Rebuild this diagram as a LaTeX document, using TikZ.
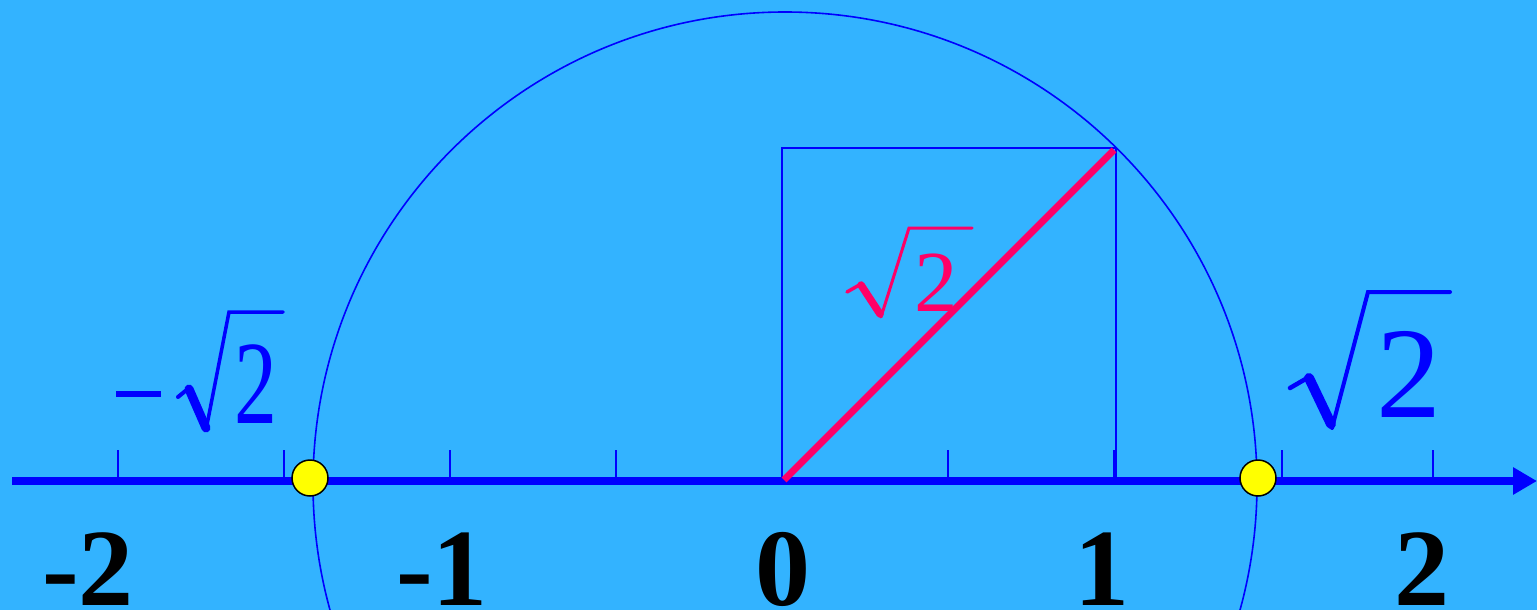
\documentclass[tikz,border=0pt]{standalone}
\usepackage{fontspec}
\setmainfont{Liberation Serif}
\usetikzlibrary{arrows.meta}
\definecolor{bgblue}{RGB}{51,179,255}
\definecolor{axblue}{RGB}{0,0,255}
\definecolor{diagred}{RGB}{255,0,102}
\definecolor{dotyellow}{RGB}{255,255,0}
\tikzset{
  ticklbl/.style={anchor=base, inner sep=0pt, font=\fontsize{110}{110}\bfseries\selectfont, text=black},
  tickmark/.style={draw=axblue, line width=2pt},
  thinblue/.style={draw=axblue, line width=1.6pt},
  ptdot/.style={circle, draw=black, line width=1.5pt, fill=dotyellow, minimum size=36pt, inner sep=0pt},
  digit/.style={inner sep=0pt, anchor=south west},
  radthin/.style={line width=#1, line cap=round, line join=miter},
  radthick/.style={line width=#1, line cap=round}
}
\begin{document}
\begin{tikzpicture}[x=1pt,y=-1pt]
\useasboundingbox (0,0) rectangle (1537,610);
\fill[bgblue] (0,0) rectangle (1537,610);
\begin{scope}
\clip (0,0) rectangle (1537,610);
\coordinate (cc) at (785,484);
\draw[thinblue] (cc) circle[radius=472];
\end{scope}
% square
\coordinate (o) at (782,481);
\coordinate (sq1) at (1116,148);
\draw[thinblue] (o) rectangle (sq1);
% ticks
\foreach \x [count=\i] in {118,284,450,616,782,948,1114,1282,1433}{
  \coordinate (tt\i) at (\x,450);
  \coordinate (tb\i) at (\x,481);
  \draw[tickmark] (tt\i) -- (tb\i);
}
% axis
\coordinate (axl) at (12,481);
\coordinate (axr) at (1537,481);
\draw[draw=axblue, line width=8pt, -{Triangle[length=24pt,width=26pt]}] (axl) -- (axr);
% diagonal
\coordinate (d0) at (784,480);
\coordinate (d1) at (1114,150);
\draw[diagred, line width=7pt] (d0) -- (d1);
% points
\node[ptdot] (pl) at (310,478) {};
\node[ptdot] (pr) at (1258,478) {};
% numbers
\node[ticklbl] (n-2) at (88,605) {-2};
\node[ticklbl] (n-1) at (442,605) {-1};
\node[ticklbl] (n0) at (783,605) {0};
\node[ticklbl] (n1) at (1102,605) {1};
\node[ticklbl] (n2) at (1422,605) {2};
% -sqrt2 (left)
\fill[axblue] (116,391) rectangle (161,397);
\draw[axblue, radthin=4pt] (178,397) -- (189,388);
\draw[axblue, radthick=9pt] (189,389) -- (206,428);
\draw[axblue, radthin=3.5pt] (206,430) -- (229,312) -- (283,312);
\node[digit, text=axblue, font=\fontsize{119}{119}\selectfont, xscale=0.72] (ml) at (234,424) {2};
% sqrt2 (right)
\draw[axblue, radthin=4.5pt] (1290,388) -- (1309,377);
\draw[axblue, radthick=10pt] (1309,378) -- (1331,424);
\draw[axblue, radthin=4pt] (1332,428) -- (1368,292) -- (1450,292);
\node[digit, text=axblue, font=\fontsize{130}{130}\selectfont] (mr) at (1376,418) {2};
% sqrt2 (diagonal)
\draw[diagred, radthin=3.5pt] (847,292) -- (861,284);
\draw[diagred, radthick=7.5pt] (861,285) -- (880,314);
\draw[diagred, radthin=3pt] (881,317) -- (909,228) -- (972,228);
\node[digit, text=diagred, font=\fontsize{87}{87}\selectfont] (md) at (914,312) {2};
\end{tikzpicture}
\end{document}
